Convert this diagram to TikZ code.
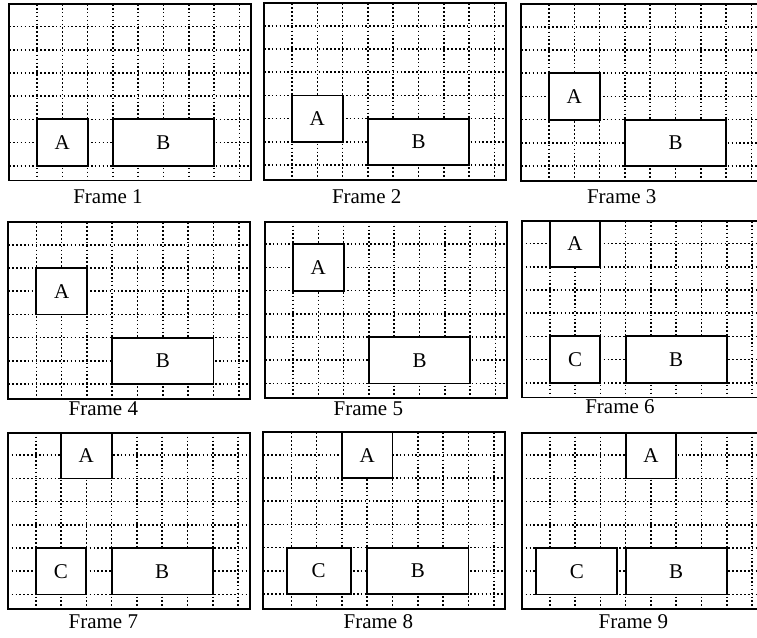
\documentclass[tikz,border=0pt]{standalone}
\usepackage{fontspec}
\setmainfont{Liberation Serif}
\usetikzlibrary{positioning}

\tikzset{
  gridline/.style={line width=1.6pt, dash pattern=on 1.6pt off 2.3pt},
  border/.style={line width=1.8pt},
  ongrid/.style={shift={(28,22.5)}, x=25.3pt, y=-23.2pt},
  obj/.style={draw, fill=white, line width=1.8pt, inner sep=0pt},
  cellspan/.style 2 args={minimum width=#1*25.3pt, minimum height=#2*23.2pt},
}

% dotted grid and outline of one frame, origin at its top left corner
\newcommand{\framegrid}{%
  \foreach \i in {0,...,8}
    \draw[gridline] ({28+25.3*\i},0) -- ({28+25.3*\i},176.5);
  \foreach \j in {0,...,6}
    \draw[gridline] (0,{22.5+23.2*\j}) -- (242,{22.5+23.2*\j});
  \draw[border] (0,0) rectangle (242,176.5);
}

\begin{document}
\begin{tikzpicture}[x=1pt, y=-1pt, font=\fontsize{21}{25}\selectfont]
  \useasboundingbox (0,0) rectangle (757,637);
  \clip (0,0) rectangle (757,637);

  % Frame 1
  \begin{scope}[shift={(9,4)}]
    \framegrid
    \begin{scope}[ongrid]
      \node[obj, cellspan={2}{2}] (A1) at (1,5) {A};
      \node[obj, cellspan={4}{2}] (B1) at (5,5) {B};
    \end{scope}
    \node (F1) at (99,193) {Frame 1};
  \end{scope}

  % Frame 2
  \begin{scope}[shift={(264,3.3)}]
    \framegrid
    \begin{scope}[ongrid]
      \node[obj, cellspan={2}{2}] (A2) at (1,4) {A};
      \node[obj, cellspan={4}{2}] (B2) at (5,5) {B};
    \end{scope}
    \node (F2) at (102.7,193.7) {Frame 2};
  \end{scope}

  % Frame 3
  \begin{scope}[shift={(521,4.3)}]
    \framegrid
    \begin{scope}[ongrid]
      \node[obj, cellspan={2}{2}] (A3) at (1,3) {A};
      \node[obj, cellspan={4}{2}] (B3) at (5,5) {B};
    \end{scope}
    \node (F3) at (100.7,192.7) {Frame 3};
  \end{scope}

  % Frame 4
  \begin{scope}[shift={(8.3,222.3)}]
    \framegrid
    \begin{scope}[ongrid]
      \node[obj, cellspan={2}{2}] (A4) at (1,2) {A};
      \node[obj, cellspan={4}{2}] (B4) at (5,5) {B};
    \end{scope}
    \node (F4) at (95,186) {Frame 4};
  \end{scope}

  % Frame 5
  \begin{scope}[shift={(265,221.7)}]
    \framegrid
    \begin{scope}[ongrid]
      \node[obj, cellspan={2}{2}] (A5) at (1,1) {A};
      \node[obj, cellspan={4}{2}] (B5) at (5,5) {B};
    \end{scope}
    \node (F5) at (103.3,186.6) {Frame 5};
  \end{scope}

  % Frame 6
  \begin{scope}[shift={(521.7,221)}]
    \framegrid
    \begin{scope}[ongrid]
      \node[obj, cellspan={2}{1.97}] (A6) at (1,0.015) {A};
      \node[obj, cellspan={2}{2}] (C6) at (1,5) {C};
      \node[obj, cellspan={4}{2}] (B6) at (5,5) {B};
    \end{scope}
    \node (F6) at (98.3,185.7) {Frame 6};
  \end{scope}

  % Frame 7
  \begin{scope}[shift={(7.7,432.7)}]
    \framegrid
    \begin{scope}[ongrid]
      \node[obj, cellspan={2}{1.97}] (A7) at (2,0.015) {A};
      \node[obj, cellspan={2}{2}] (C7) at (1,5) {C};
      \node[obj, cellspan={4}{2}] (B7) at (5,5) {B};
    \end{scope}
    \node (F7) at (95.6,189) {Frame 7};
  \end{scope}

  % Frame 8
  \begin{scope}[shift={(263.3,432.3)}]
    \framegrid
    \begin{scope}[ongrid]
      \node[obj, cellspan={2}{1.97}] (A8) at (3,0.015) {A};
      \node[obj, cellspan={2.53}{2}] (C8) at (1.08,5) {C};
      \node[obj, cellspan={4}{2}] (B8) at (5,5) {B};
    \end{scope}
    \node (F8) at (115,189.4) {Frame 8};
  \end{scope}

  % Frame 9
  \begin{scope}[shift={(521.7,432.7)}]
    \framegrid
    \begin{scope}[ongrid]
      \node[obj, cellspan={2}{1.97}] (A9) at (4,0.015) {A};
      \node[obj, cellspan={3.21}{2}] (C9) at (1.07,5) {C};
      \node[obj, cellspan={4}{2}] (B9) at (5,5) {B};
    \end{scope}
    \node (F9) at (111.6,189) {Frame 9};
  \end{scope}
\end{tikzpicture}
\end{document}
